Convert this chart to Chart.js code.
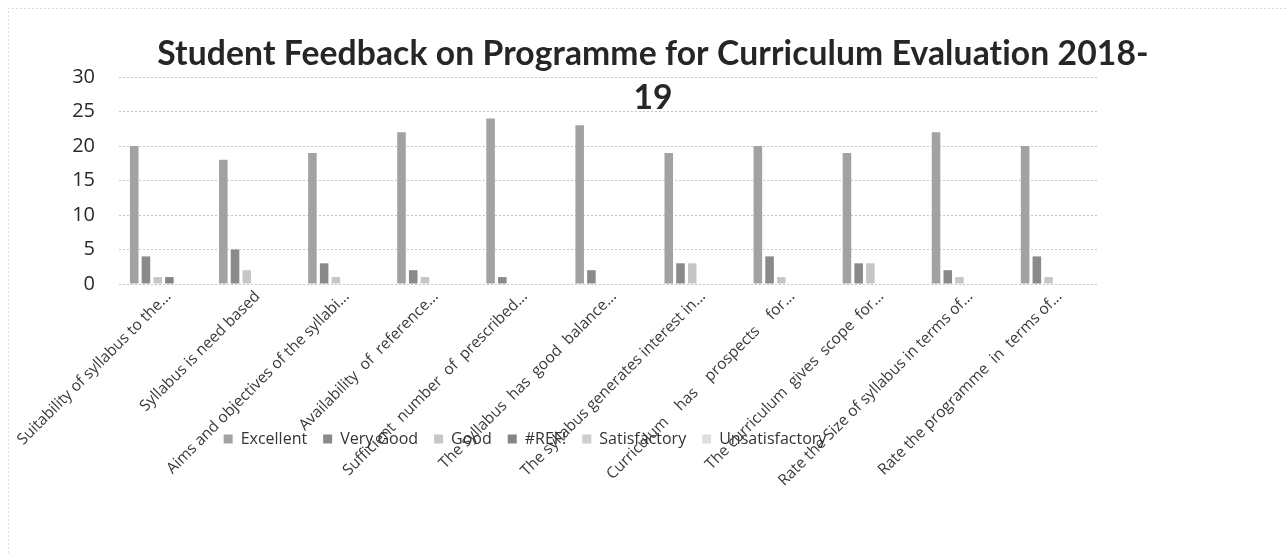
<!DOCTYPE html>
<html><head><meta charset="utf-8">
<script src="https://cdn.jsdelivr.net/npm/chart.js@4.4.1/dist/chart.umd.min.js"></script>
<style>html,body{margin:0;padding:0;background:#fff;}canvas{display:block;}</style>
</head><body>
<canvas id="c" width="1286" height="553"></canvas>
<script>
const categories = [
  'Suitability of syllabus to the...',
  'Syllabus is need based',
  'Aims and objectives of the syllabi...',
  'Availability  of  reference...',
  'Sufficient  number  of  prescribed...',
  'The syllabus  has  good  balance...',
  'The syllabus generates interest in...',
  'Curriculum    has    prospects    for...',
  'The curriculum  gives  scope  for...',
  'Rate the Size of syllabus in terms of...',
  'Rate the programme  in  terms of...'
];
const excellent      = [20, 18, 19, 22, 24, 23, 19, 20, 19, 22, 20];
const veryGood       = [4, 5, 3, 2, 1, 2, 3, 4, 3, 2, 4];
const good           = [1, 2, 1, 1, 0, 0, 3, 1, 3, 1, 1];
const refErr         = [1, 0, 0, 0, 0, 0, 0, 0, 0, 0, 0];
const satisfactory   = [0, 0, 0, 0, 0, 0, 0, 0, 0, 0, 0];
const unsatisfactory = [0, 0, 0, 0, 0, 0, 0, 0, 0, 0, 0];
const seriesNames = ['Excellent', 'Very Good', 'Good', '#REF!', 'Satisfactory', 'Unsatisfactory'];
const yTicks = [0, 5, 10, 15, 20, 25, 30];
const titleLines = ['Student Feedback on Programme for Curriculum Evaluation 2018-', '19'];

const seriesColors = ['#a2a2a2', '#8a8a8a', '#c6c6c6', '#858585', '#cdcdcd', '#dedede'];
const seriesData = [excellent, veryGood, good, refErr, satisfactory, unsatisfactory];

const titlePlugin = {
  id: 'titleText',
  afterDraw(chart) {
    const ctx = chart.ctx;
    ctx.save();
    ctx.strokeStyle = '#dcdcdc';
    ctx.lineWidth = 1;
    ctx.setLineDash([2, 2]);
    ctx.beginPath();
    ctx.moveTo(8.5, 553); ctx.lineTo(8.5, 8.5); ctx.lineTo(1286, 8.5);
    ctx.stroke();
    ctx.setLineDash([]);
    if ('letterSpacing' in ctx) ctx.letterSpacing = '0.1px';
    let size = 32;
    ctx.font = 'bold ' + size + 'px Lato';
    const w = ctx.measureText(titleLines[0]).width;
    size = size * 992 / w;
    ctx.font = 'bold ' + size.toFixed(2) + 'px Lato';
    ctx.fillStyle = '#262626';
    ctx.textAlign = 'center';
    ctx.textBaseline = 'alphabetic';
    ctx.fillText(titleLines[0], 653, 65);
    ctx.fillText(titleLines[1], 653, 109);
    ctx.restore();
  }
};
const xLabelPlugin = {
  id: 'xLabels',
  afterDraw(chart) {
    const ctx = chart.ctx;
    const xs = chart.scales.x;
    const top = chart.chartArea.bottom;
    ctx.save();
    ctx.font = '15.5px "Open Sans"';
    ctx.fillStyle = '#3a3a3a';
    ctx.textAlign = 'right';
    ctx.textBaseline = 'middle';
    categories.forEach((lab, i) => {
      const x = xs.getPixelForValue(i);
      ctx.save();
      ctx.translate(x + 5, top + 10);
      ctx.rotate(-Math.PI / 4);
      ctx.fillText(lab, 0, 0);
      ctx.restore();
    });
    ctx.restore();
  }
};
const legendShift = {
  id: 'legendShift',
  afterLayout(chart) {
    const lg = chart.legend;
    if (!lg) return;
    const dx = 525 - (lg.left + lg.right) / 2;
    lg.left += dx; lg.right += dx;
  }
};

new Chart(document.getElementById('c'), {
  type: 'bar',
  data: {
    labels: categories,
    datasets: seriesNames.map((n, i) => ({
      label: n,
      data: seriesData[i],
      backgroundColor: seriesColors[i],
      borderWidth: 0,
      barPercentage: 0.73,
      categoryPercentage: 0.79
    }))
  },
  options: {
    responsive: false,
    animation: false,
    events: [],
    layout: { padding: { left: 0, right: 187, top: 77, bottom: 96 } },
    plugins: {
      title: { display: false },
      tooltip: { enabled: false },
      legend: {
        position: 'bottom',
        labels: {
          boxWidth: 9, boxHeight: 9, padding: 16,
          color: '#333', font: { family: 'Open Sans', size: 16 }
        }
      }
    },
    scales: {
      x: {
        grid: { display: false, drawTicks: false },
        border: { display: false },
        ticks: { display: false },
        afterFit(s) { s.height = 131; }
      },
      y: {
        min: 0, max: 30,
        afterBuildTicks(s) { s.ticks = yTicks.map(v => ({ value: v })); },
        grid: { color: '#c4c4c4', drawTicks: false, lineWidth: 1 },
        border: { display: false, dash: [2, 2] },
        ticks: { padding: 24, color: '#2a2a2a', font: { family: 'Open Sans', size: 20 } },
        afterFit(s) { s.width = 119; }
      }
    }
  },
  plugins: [titlePlugin, xLabelPlugin, legendShift]
});
</script>
</body></html>
